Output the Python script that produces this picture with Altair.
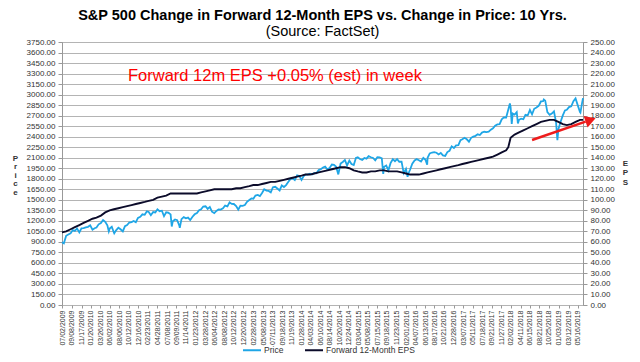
import calendar
import altair as alt
import pandas as pd

TITLE = "S&P 500 Change in Forward 12-Month EPS vs. Change in Price: 10 Yrs."
SUBTITLE = "(Source: FactSet)"
NOTE = "Forward 12m EPS +0.05% (est) in week"
SERIES = ["Price", "Forward 12-Month EPS"]
COLORS = ["#1fa6e6", "#0b0b2a"]

X_LABELS = [
    "07/02/2009", "09/08/2009", "11/17/2009", "01/20/2010", "03/26/2010", "06/02/2010",
    "08/06/2010", "10/12/2010", "12/16/2010", "02/23/2011", "04/28/2011", "07/08/2011",
    "09/09/2011", "11/14/2011", "01/23/2012", "03/28/2012", "06/04/2012", "08/08/2012",
    "10/12/2012", "12/20/2012", "02/28/2013", "05/08/2013", "07/11/2013", "09/18/2013",
    "11/19/2013", "01/28/2014", "04/03/2014", "06/10/2014", "08/14/2014", "10/20/2014",
    "12/24/2014", "03/04/2015", "05/08/2015", "07/15/2015", "09/18/2015", "11/23/2015",
    "02/01/2016", "04/07/2016", "06/13/2016", "08/17/2016", "10/21/2016", "12/28/2016",
    "03/07/2017", "05/11/2017", "07/18/2017", "09/21/2017", "11/27/2017", "02/02/2018",
    "04/11/2018", "06/15/2018", "08/21/2018", "10/25/2018", "01/03/2019", "03/12/2019",
    "05/16/2019",
]
LEFT_TICKS = list(range(0, 3751, 150))
RIGHT_TICKS = list(range(0, 251, 10))

# S&P 500 price: (mid-month, month-end) pairs
PRICE_START = ("2009-07-02", 896)
PRICE = {
    2009: [880, 987, 1005, 1021, 1068, 1057, 1092, 1036, 1093, 1096, 1107, 1115],
    2010: [1136, 1074, 1095, 1104, 1150, 1169, 1211, 1187, 1136, 1089, 1116, 1031,
           1065, 1102, 1080, 1049, 1125, 1141, 1176, 1183, 1199, 1181, 1242, 1258],
    2011: [1293, 1286, 1336, 1327, 1281, 1326, 1320, 1364, 1338, 1345, 1266, 1321,
           1316, 1292, 1193, 1219, 1209, 1131, 1224, 1253, 1236, 1247, 1212, 1258],
    2012: [1293, 1312, 1351, 1366, 1404, 1408, 1370, 1398, 1330, 1310, 1342, 1362,
           1360, 1379, 1418, 1407, 1465, 1441, 1440, 1412, 1359, 1416, 1413, 1426],
    2013: [1472, 1498, 1519, 1515, 1560, 1569, 1552, 1598, 1650, 1631, 1626, 1606,
           1680, 1686, 1661, 1633, 1704, 1682, 1710, 1757, 1798, 1806, 1781, 1848],
    2014: [1838, 1783, 1838, 1859, 1858, 1872, 1862, 1884, 1877, 1924, 1937, 1960,
           1973, 1931, 1955, 2003, 1998, 1972, 1862, 2018, 2039, 2068, 1990, 2059],
    2015: [2011, 1995, 2096, 2105, 2081, 2068, 2096, 2086, 2122, 2107, 2096, 2063,
           2108, 2104, 2092, 1972, 1990, 1920, 2023, 2079, 2050, 2080, 2043, 2044],
    2016: [1880, 1940, 1864, 1932, 2015, 2060, 2080, 2065, 2047, 2097, 2071, 2099,
           2162, 2174, 2180, 2171, 2147, 2168, 2133, 2126, 2180, 2199, 2262, 2239],
    2017: [2275, 2279, 2349, 2364, 2385, 2363, 2329, 2384, 2400, 2412, 2433, 2423,
           2459, 2470, 2465, 2472, 2500, 2519, 2557, 2575, 2579, 2648, 2675, 2674],
    2018: [2786, 2824, 2731, 2714, 2750, 2641, 2656, 2648, 2711, 2705, 2780, 2718,
           2798, 2816, 2840, 2902, 2905, 2914, 2750, 2712, 2730, 2760, 2600, 2507],
    2019: [2610, 2704, 2775, 2784, 2822, 2834, 2905, 2946, 2850, 2752, 2886, 2950],
}
PRICE_EXTRA_DATES = ["2010-05-25", "2010-07-02", "2011-08-08", "2011-10-03", "2015-08-25",
                     "2016-02-11", "2016-06-27", "2018-01-26", "2018-02-08", "2018-03-23",
                     "2018-09-20", "2018-12-24", "2019-06-03"]
PRICE_EXTRA_VALUES = [1050, 1022, 1119, 1099, 1868, 1829, 2001, 2873, 2581, 2588, 2931, 2351, 2744]

# Forward 12-month EPS: month-end values
EPS_START = ("2009-07-02", 69)
EPS = {
    2009: [70, 72, 74, 76, 78, 80],
    2010: [82, 83, 85, 88, 90, 91, 92, 93, 94, 95, 96, 97],
    2011: [98, 99, 100, 102, 103, 104, 106, 106, 106, 106, 106, 106],
    2012: [106, 107, 108, 109, 110, 110, 110, 110, 110, 111, 111, 112],
    2013: [113, 114, 114, 115, 116, 117, 117, 118, 119, 120, 121, 122],
    2014: [123, 124, 124, 125, 126, 127, 128, 129, 130, 131, 131, 130],
    2015: [128, 127, 126, 126, 127, 127, 128, 128, 127, 127, 127, 126],
    2016: [125, 124, 124, 124, 125, 126, 127, 128, 129, 130, 131, 132],
    2017: [133, 134, 135, 136, 137, 138, 139, 140, 141, 143, 145, 147],
    2018: [159, 162, 164, 166, 168, 170, 172, 174, 175, 176, 176, 174],
    2019: [172, 171, 172, 174, 176, 176],
}
EPS_EXTRA_DATES = ["2018-01-15"]
EPS_EXTRA_VALUES = [150]

END = (2019, 6, 21)


def month_end(year, month):
    if (year, month) == END[:2]:
        return END[2]
    return calendar.monthrange(year, month)[1]


price_rows = [PRICE_START]
for year, vals in PRICE.items():
    m0 = 7 if year == 2009 else 1
    for i in range(0, len(vals), 2):
        m = m0 + i // 2
        price_rows.append((f"{year}-{m:02d}-15", vals[i]))
        price_rows.append((f"{year}-{m:02d}-{month_end(year, m):02d}", vals[i + 1]))
price_rows += list(zip(PRICE_EXTRA_DATES, PRICE_EXTRA_VALUES))
price_df = pd.DataFrame(price_rows, columns=["date", "value"]).sort_values("date")
price_df["series"] = SERIES[0]

eps_rows = [EPS_START]
for year, vals in EPS.items():
    m0 = 7 if year == 2009 else 1
    for i, v in enumerate(vals):
        m = m0 + i
        eps_rows.append((f"{year}-{m:02d}-{month_end(year, m):02d}", v))
eps_rows += list(zip(EPS_EXTRA_DATES, EPS_EXTRA_VALUES))
eps_df = pd.DataFrame(eps_rows, columns=["date", "value"]).sort_values("date")
eps_df["series"] = SERIES[1]


def dt(y, m, d):
    return alt.DateTime(year=y, month=m, date=d, utc=True)


x_values = [dt(int(s[6:]), int(s[:2]), int(s[3:5])) for s in X_LABELS]
FONT = "Liberation Sans"
GRID = "#b4b4b4"
LABEL = "#333333"
RED = "#ee1c1c"

x_enc = alt.X(
    "date:T",
    scale=alt.Scale(type="utc", domain=[dt(2009, 7, 2), dt(*END)], nice=False),
    axis=alt.Axis(values=x_values, tickCount=200, format="%m/%d/%Y", labelAngle=270,
                  labelAlign="right", labelBaseline="middle", labelFontSize=7,
                  labelColor=LABEL, tickSize=3, tickColor="#999999", domain=False,
                  grid=False, title=None, labelOverlap=False, labelFlush=False,
                  labelPadding=2),
)

color_enc = alt.Color(
    "series:N",
    scale=alt.Scale(domain=SERIES, range=COLORS),
    legend=alt.Legend(orient="none", legendX=180, legendY=298, direction="horizontal",
                      symbolType="stroke", symbolSize=324, symbolStrokeWidth=2,
                      labelFontSize=8.5, labelColor=LABEL, title=None, columnPadding=17,
                      labelOffset=2, padding=0),
)

price_line = alt.Chart(price_df).mark_line(strokeWidth=1.8).encode(
    x=x_enc,
    y=alt.Y("value:Q", scale=alt.Scale(domain=[0, 3750], nice=False, zero=False),
            axis=alt.Axis(values=LEFT_TICKS, tickCount=200, format=".2f", labelFontSize=8,
                          labelColor=LABEL, tickSize=4, tickColor="#999999",
                          domainColor="#999999", grid=True, gridColor=GRID, labelPadding=3,
                          labelOverlap=False,
                          title=["P", "r", "i", "c", "e"], titleAngle=0, titleFontSize=8,
                          titleFontWeight="bold", titleLineHeight=8.5, titleX=-47, titleY=116,
                          titleAlign="center", titleBaseline="middle", titleColor=LABEL)),
    color=color_enc,
)

note = alt.Chart(pd.DataFrame({"note": [NOTE]})).mark_text(
    align="left", baseline="middle", fontSize=16.5, color="#ff0000", font=FONT
).encode(x=alt.datum(dt(2010, 10, 6)), y=alt.datum(3265), text="note:N")

eps_line = alt.Chart(eps_df).mark_line(strokeWidth=1.9).encode(
    x=x_enc,
    y=alt.Y("value:Q", scale=alt.Scale(domain=[0, 250], nice=False, zero=False),
            axis=alt.Axis(values=RIGHT_TICKS, tickCount=200, format=".2f", orient="right",
                          labelFontSize=8, labelColor=LABEL, tickSize=4,
                          tickColor="#999999", domainColor="#999999", grid=False,
                          labelPadding=3, labelOverlap=False,
                          title=["E", "P", "S"], titleAngle=0, titleFontSize=8,
                          titleFontWeight="bold", titleLineHeight=9.5, titleX=42, titleY=121,
                          titleAlign="center", titleBaseline="middle", titleColor=LABEL)),
    color=color_enc,
)

one = pd.DataFrame({"k": [0]})
arrow = alt.Chart(one).mark_rule(color=RED, strokeWidth=2.5).encode(
    x=alt.datum(dt(2018, 6, 30)), x2=alt.datum(dt(2019, 7, 9)),
    y=alt.datum(156.8), y2=alt.datum(174.3),
)
head = alt.Chart(one).mark_point(shape="triangle-right", filled=True, size=150, angle=341,
                                 color=RED, opacity=1).encode(
    x=alt.datum(dt(2019, 8, 13)), y=alt.datum(175.9),
)

chart = alt.layer(
    alt.layer(price_line, note),
    alt.layer(eps_line, arrow, head),
).resolve_scale(y="independent").properties(
    width=521, height=263,
    title=alt.TitleParams(TITLE, subtitle=SUBTITLE, fontSize=14.5, fontWeight="bold",
                          subtitleFontSize=14.5, color="#000000", subtitleColor="#000000",
                          anchor="middle", offset=2, subtitlePadding=1, font=FONT,
                          subtitleFont=FONT, dy=3),
    autosize=alt.AutoSizeParams(type="none"),
    padding={"left": 54, "top": 34, "right": 49, "bottom": 49},
).configure(font=FONT).configure_view(stroke="#999999")

chart.save("out.html", embed_options={"renderer": "svg", "actions": False})
